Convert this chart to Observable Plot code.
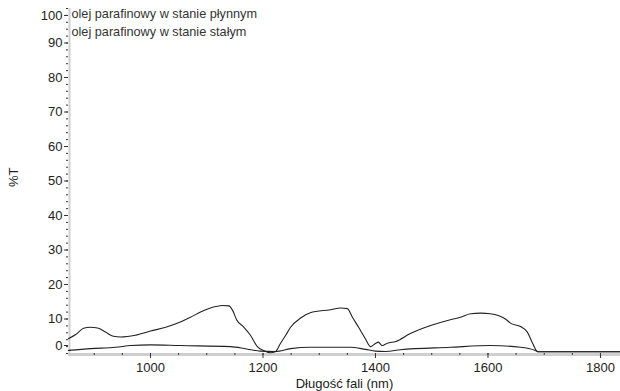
<!DOCTYPE html>
<html><head><meta charset="utf-8">
<script src="https://cdn.jsdelivr.net/npm/d3@7"></script>
<script src="https://cdn.jsdelivr.net/npm/@observablehq/plot@0.6"></script>
<style>body{margin:0;background:#fff;font-family:"Liberation Sans",Arial,sans-serif}</style>
</head><body><div id="chart"></div>
<script>
const legendLabels = ["olej parafinowy w stanie płynnym", "olej parafinowy w stanie stałym"];
const xTicks = [1000, 1200, 1400, 1600, 1800];
const yTicks = [0, 10, 20, 30, 40, 50, 60, 70, 80, 90, 100];
const xLabel = "Długość fali (nm)";
const yLabel = "%T";

const upperNm = [854,867,881,893,906,920,934,947,973,1000,1027,1053,1071,1089,1116,1128,1139,1146,1153,1165,1178,1190,1203,1213,1222,1231,1240,1249,1267,1284,1320,1338,1350,1359,1370,1382,1391,1400,1405,1412,1421,1436,1462,1498,1533,1551,1569,1587,1604,1631,1640,1658,1670,1677,1684,1688,1835];
const upperT  = [4.3,5.5,7.3,7.6,7.4,6.2,5.0,4.8,5.3,6.5,7.6,9.1,10.5,12.0,13.6,13.9,13.8,12.5,9.8,7.8,5.2,2.0,0.7,0.2,0.5,2.9,5.2,7.6,10.3,11.8,12.7,13.2,13.0,10.5,7.6,4.3,2.0,2.9,3.3,2.3,3.0,3.5,5.8,8.1,9.8,10.5,11.5,11.7,11.5,10.0,8.8,7.8,6.2,3.8,1.4,0.5,0.5];
const lowerNm = [854,894,938,965,1000,1053,1142,1169,1195,1222,1249,1284,1355,1382,1400,1418,1444,1533,1604,1658,1684,1690,1835];
const lowerT  = [0.9,1.4,1.8,2.3,2.5,2.3,2.0,1.4,0.7,0.6,1.4,1.8,1.8,1.2,0.7,0.6,1.1,1.8,2.3,1.8,0.9,0.5,0.5];

const upper = upperNm.map((x, i) => ({x, y: upperT[i]}));
const lower = lowerNm.map((x, i) => ({x, y: lowerT[i]}));

const font = "Liberation Sans, Arial, sans-serif";
const fmt = d3.format("d");
const plot = Plot.plot({
  width: 620, height: 391,
  marginLeft: 68, marginRight: 0, marginTop: 8, marginBottom: 38,
  style: {fontFamily: font, fontSize: "13px", color: "#333", background: "#fff"},
  x: {domain: [854.2, 1835.6], label: null},
  y: {domain: [0, 100], label: null},
  marks: [
    Plot.ruleY([0], {stroke: "#cfcfcf", strokeWidth: 3, dy: 1}),
    Plot.ruleX([854.2], {stroke: "#cfcfcf", strokeWidth: 2, dx: 1}),
    Plot.axisX({ticks: d3.range(900, 1836, 50), tickSize: 2, tickFormat: () => "", stroke: "#333", label: null}),
    Plot.axisX({ticks: xTicks, tickSize: 5, tickPadding: 4, tickFormat: fmt, stroke: "#333", fill: "#222", label: null}),
    Plot.axisY({ticks: d3.range(0, 101, 2), tickSize: 2, tickFormat: () => "", stroke: "#333", label: null}),
    Plot.axisY({ticks: yTicks.filter(d => d > 0 && d < 100), tickSize: 4, tickPadding: 2, tickFormat: fmt, stroke: "#333", fill: "#222", label: null}),
    Plot.axisY({ticks: [0], tickSize: 4, tickPadding: 2, tickFormat: fmt, stroke: "#333", fill: "#222", label: null, dy: -8}),
    Plot.axisY({ticks: [100], tickSize: 4, tickPadding: 2, tickFormat: fmt, stroke: "#333", fill: "#222", label: null, dy: 7}),
    Plot.line(upper, {x: "x", y: "y", stroke: "#222", strokeWidth: 1.1, curve: "monotone-x"}),
    Plot.line(lower, {x: "x", y: "y", stroke: "#222", strokeWidth: 1.1, curve: "monotone-x"}),
    Plot.text([legendLabels[0]], {frameAnchor: "top-left", dx: 3, dy: 0, textAnchor: "start", fill: "#333", fontSize: 12.7}),
    Plot.text([legendLabels[1]], {frameAnchor: "top-left", dx: 3, dy: 18, textAnchor: "start", fill: "#333", fontSize: 12.7}),
    Plot.text([xLabel], {frameAnchor: "bottom", dy: 34, fill: "#222", fontSize: 13}),
    Plot.text([yLabel], {frameAnchor: "left", dx: -55, dy: 6, rotate: -90, fill: "#222", fontSize: 13})
  ]
});
document.getElementById("chart").append(plot);
</script></body></html>
